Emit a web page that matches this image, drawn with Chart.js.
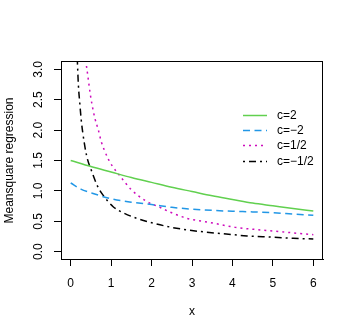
<!DOCTYPE html>
<html>
<head>
<meta charset="utf-8">
<script src="https://cdn.jsdelivr.net/npm/chart.js@4.4.0/dist/chart.umd.min.js"></script>
<style>
body { margin: 0; background: #fff; }
</style>
</head>
<body>
<canvas id="myChart" width="354" height="336"></canvas>
<script>
// values
var xTicks = [0, 1, 2, 3, 4, 5, 6];
var yTicks = [0, 0.5, 1, 1.5, 2, 2.5, 3];
var seriesLabels = ["c=2", "c=\u22122", "c=1/2", "c=\u22121/2"];

var c2X = [0, 0.5, 1, 1.5, 2, 2.5, 3, 3.5, 4, 4.5, 5, 5.5, 6];
var c2Y = [1.50, 1.40, 1.31, 1.22, 1.14, 1.06, 0.99, 0.92, 0.86, 0.80, 0.755, 0.71, 0.67];

var cm2X = [0, 0.25, 0.5, 1, 1.5, 2, 2.5, 3, 3.5, 4, 4.5, 5, 5.5, 6];
var cm2Y = [1.13, 1.03, 0.97, 0.87, 0.815, 0.775, 0.73, 0.70, 0.68, 0.665, 0.655, 0.64, 0.62, 0.60];

var chX = [0.33, 0.38, 0.42, 0.48, 0.53, 0.6, 0.68, 0.76, 0.82, 0.94, 1.04, 1.2, 1.5, 1.87, 2.17, 2.5, 2.87, 3.45, 4.07, 4.5, 5, 5.5, 6];
var chY = [3.45, 3.11, 2.91, 2.61, 2.41, 2.19, 2.01, 1.80, 1.69, 1.51, 1.40, 1.26, 1.02, 0.83, 0.74, 0.64, 0.55, 0.48, 0.40, 0.37, 0.34, 0.31, 0.28];

var cmhX = [0.14, 0.167, 0.19, 0.225, 0.26, 0.3, 0.39, 0.52, 0.67, 0.8, 1.05, 1.3, 1.63, 2.04, 2.5, 2.87, 3.3, 3.7, 4.36, 5, 5.5, 6];
var cmhY = [3.57, 3.10, 2.74, 2.44, 2.17, 1.95, 1.59, 1.32, 1.07, 0.93, 0.74, 0.64, 0.55, 0.47, 0.40, 0.36, 0.325, 0.30, 0.26, 0.24, 0.22, 0.21];

function pts(xs, ys) {
  return xs.map(function (x, i) { return {x: x, y: ys[i]}; });
}

Chart.defaults.font.family = '"Liberation Sans", Arial, sans-serif';
Chart.defaults.font.size = 12;
Chart.defaults.color = '#000';

// R style box round the plot region
var boxPlugin = {
  id: 'box',
  afterDraw: function (chart) {
    var a = chart.chartArea, ctx = chart.ctx;
    ctx.save();
    ctx.strokeStyle = '#000';
    ctx.lineWidth = 1;
    ctx.strokeRect(a.left + 0.5, a.top - 0.5, a.right - a.left - 1, a.bottom - a.top + 1);
    ctx.restore();
  }
};

// legend without a box, inside the plot
var legendPlugin = {
  id: 'rLegend',
  afterDatasetsDraw: function (chart) {
    var ctx = chart.ctx, a = chart.chartArea;
    var x0 = a.right - 80, x1 = a.right - 56, tx = a.right - 46, y0 = a.top + 53;
    chart.data.datasets.forEach(function (ds, i) {
      var y = Math.round(y0 + i * 15.2) + 0.5;
      ctx.save();
      ctx.strokeStyle = ds.borderColor;
      ctx.lineWidth = ds.borderWidth;
      ctx.setLineDash(ds.borderDash || []);
      ctx.beginPath();
      ctx.moveTo(x0, y);
      ctx.lineTo(x1, y);
      ctx.stroke();
      ctx.setLineDash([]);
      ctx.fillStyle = '#000';
      ctx.font = '12px "Liberation Sans", Arial, sans-serif';
      ctx.textBaseline = 'middle';
      ctx.textAlign = 'left';
      ctx.fillText(ds.label, tx, y);
      ctx.restore();
    });
  }
};

new Chart("myChart", {
  type: "line",
  data: {
    datasets: [
      {label: seriesLabels[0], data: pts(c2X, c2Y), borderColor: '#61D04F', borderWidth: 1.5},
      {label: seriesLabels[1], data: pts(cm2X, cm2Y), borderColor: '#2297E6', borderWidth: 1.5, borderDash: [7, 4.5]},
      {label: seriesLabels[2], data: pts(chX, chY), borderColor: '#CD0BBC', borderWidth: 1.5, borderDash: [2, 4]},
      {label: seriesLabels[3], data: pts(cmhX, cmhY), borderColor: '#000000', borderWidth: 1.5, borderDash: [2, 4, 7, 4]}
    ]
  },
  options: {
    responsive: false,
    animation: false,
    parsing: false,
    layout: {padding: {top: 62, right: 31, left: 0, bottom: 0}},
    elements: {
      point: {radius: 0},
      line: {cubicInterpolationMode: 'monotone', fill: false}
    },
    plugins: {
      legend: {display: false},
      tooltip: {enabled: false},
      title: {display: false}
    },
    scales: {
      x: {
        type: 'linear',
        min: -0.24,
        max: 6.24,
        afterBuildTicks: function (s) { s.ticks = xTicks.map(function (v) { return {value: v}; }); },
        afterFit: function (s) { s.height = 77; },
        grid: {drawOnChartArea: false, tickLength: 7, color: '#000'},
        border: {color: '#000'},
        ticks: {padding: 10, maxRotation: 0, callback: function (v) { return String(v); }},
        title: {display: true, text: 'x', padding: {top: 0, bottom: 17}}
      },
      y: {
        type: 'linear',
        min: -0.12,
        max: 3.12,
        afterBuildTicks: function (s) { s.ticks = yTicks.map(function (v) { return {value: v}; }); },
        afterFit: function (s) { s.width = 61; },
        grid: {drawOnChartArea: false, tickLength: 7, color: '#000'},
        border: {color: '#000'},
        ticks: {minRotation: 90, maxRotation: 90, crossAlign: 'center', padding: 6.5,
                callback: function (v) { return v.toFixed(1); }},
        title: {display: true, text: 'Meansquare regression', padding: {top: 2, bottom: 0}}
      }
    }
  },
  plugins: [boxPlugin, legendPlugin]
});
</script>
</body>
</html>
